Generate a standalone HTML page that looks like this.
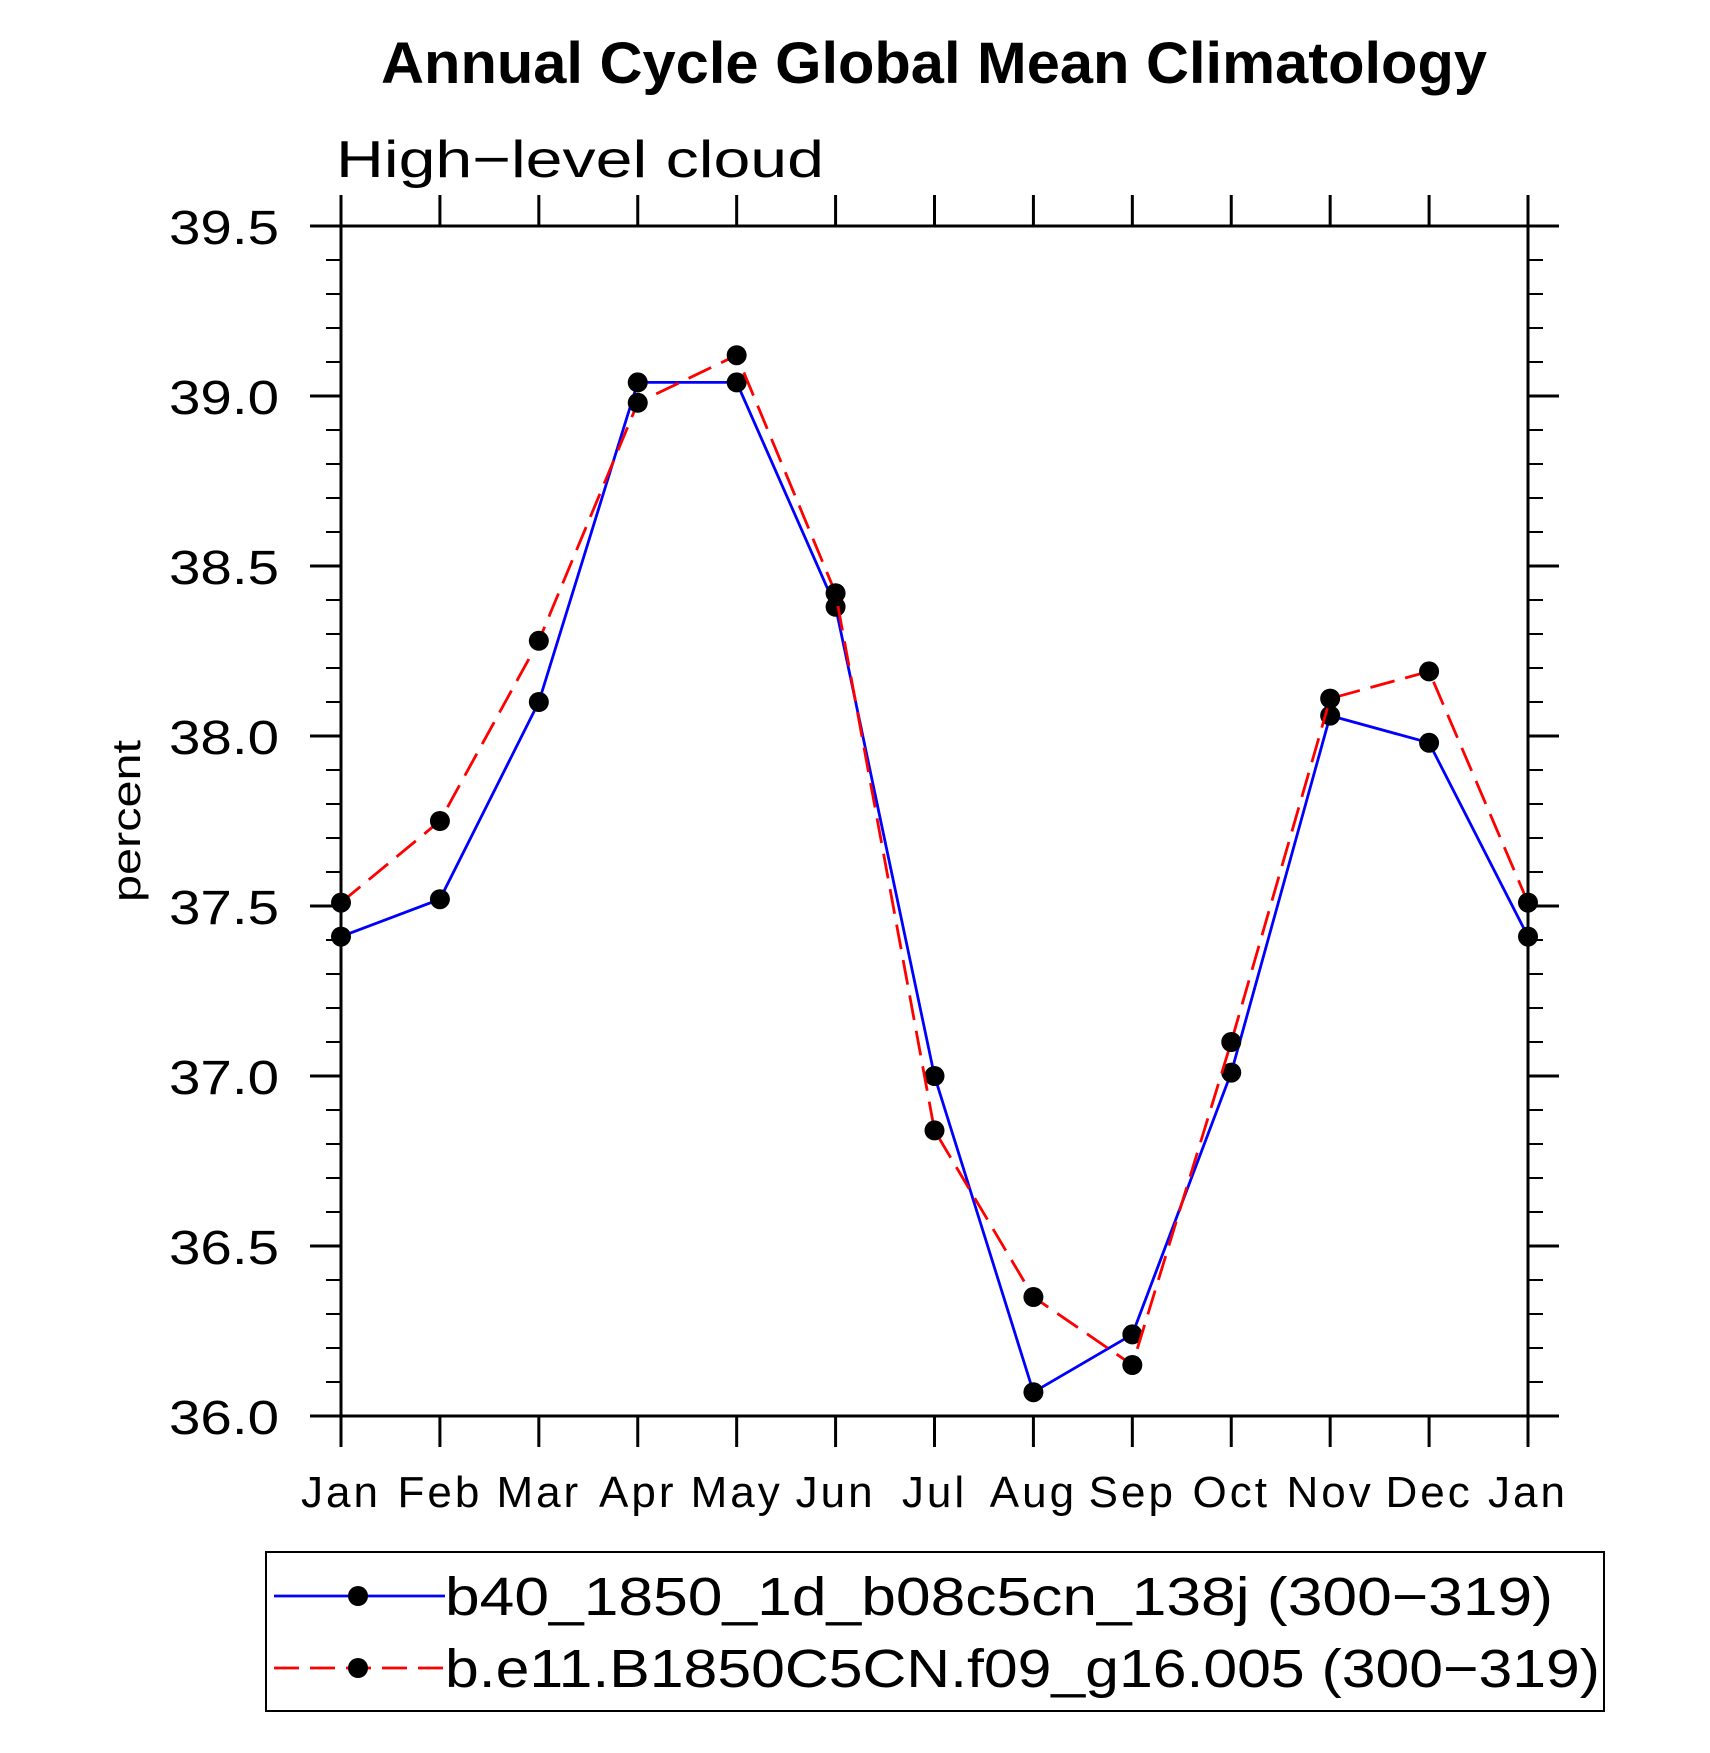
<!DOCTYPE html>
<html><head><meta charset="utf-8"><style>
html,body{margin:0;padding:0;background:#fff;}
svg{display:block;font-family:"Liberation Sans",sans-serif;}
</style></head><body>
<svg id="chart" width="1710" height="1753" viewBox="0 0 1710 1753" xmlns="http://www.w3.org/2000/svg">
<text x="934" y="83" text-anchor="middle" font-size="58" font-weight="bold" textLength="1106" lengthAdjust="spacingAndGlyphs">Annual Cycle Global Mean Climatology</text>
<text x="336" y="177" font-size="52" textLength="488" lengthAdjust="spacingAndGlyphs">High−level cloud</text>
<text transform="translate(140,821) rotate(-90)" text-anchor="middle" font-size="40" textLength="162" lengthAdjust="spacingAndGlyphs">percent</text>
<g id="axes"></g>
<g id="series"></g>
<rect x="266" y="1552" width="1338" height="159" fill="none" stroke="#000" stroke-width="2"/>
<g>
<line x1="274" y1="1596" x2="445" y2="1596" stroke="#0000ff" stroke-width="2.8"/>
<circle cx="358" cy="1596" r="10" fill="#000"/>
<text x="445" y="1615" font-size="54" textLength="1108" lengthAdjust="spacingAndGlyphs">b40_1850_1d_b08c5cn_138j (300−319)</text>
</g>
<g>
<line x1="274" y1="1668" x2="445" y2="1668" stroke="#ff0000" stroke-width="2.8" stroke-dasharray="25,11"/>
<circle cx="358" cy="1668" r="10" fill="#000"/>
<text x="445" y="1687" font-size="54" textLength="1155" lengthAdjust="spacingAndGlyphs">b.e11.B1850C5CN.f09_g16.005 (300−319)</text>
</g>
</svg>
<script>
const months = ["Jan","Feb","Mar","Apr","May","Jun","Jul","Aug","Sep","Oct","Nov","Dec","Jan"];
const blueValues = [37.41,37.52,38.10,39.04,39.04,38.38,37.00,36.07,36.24,37.01,38.06,37.98,37.41];
const redValues = [37.51,37.75,38.28,38.98,39.12,38.42,36.84,36.35,36.15,37.10,38.11,38.19,37.51];
const yTicks = ["36.0","36.5","37.0","37.5","38.0","38.5","39.0","39.5"];
const yMin = 36.0, yMax = 39.5;

const NS = "http://www.w3.org/2000/svg";
const L = 341, R = 1528, T = 226, B = 1416;
function xs(i){ return L + (R - L) * i / (months.length - 1); }
function ys(v){ return B - (B - T) * (v - yMin) / (yMax - yMin); }
function mk(tag, attrs, parent){ const e = document.createElementNS(NS, tag); for (const k in attrs) e.setAttribute(k, attrs[k]); parent.appendChild(e); return e; }

const axes = document.getElementById('axes');
const frame = mk('rect', {x:L, y:T, width:R-L, height:B-T, fill:'none', stroke:'#000', 'stroke-width':3}, axes);



for (let k = 0; k <= Math.round((yMax - yMin) * 10); k++) {
  const y = ys(yMin + k / 10);
  mk('line', {x1:L-15, y1:y, x2:L, y2:y, stroke:'#000', 'stroke-width':2}, axes);
  mk('line', {x1:R, y1:y, x2:R+15, y2:y, stroke:'#000', 'stroke-width':2}, axes);
}
yTicks.forEach(t => {
  const y = ys(parseFloat(t));
  mk('line', {x1:L-31, y1:y, x2:L, y2:y, stroke:'#000', 'stroke-width':3}, axes);
  mk('line', {x1:R, y1:y, x2:R+31, y2:y, stroke:'#000', 'stroke-width':3}, axes);
  const tx = mk('text', {x:279, y:y+18, 'text-anchor':'end', 'font-size':48, textLength:110, lengthAdjust:'spacingAndGlyphs'}, axes);
  tx.textContent = t;
  
  
});
months.forEach((m, i) => {
  const x = xs(i);
  mk('line', {x1:x, y1:B, x2:x, y2:B+31, stroke:'#000', 'stroke-width':3}, axes);
  mk('line', {x1:x, y1:T-31, x2:x, y2:T, stroke:'#000', 'stroke-width':3}, axes);
  const tx = mk('text', {x:x, y:1507, 'text-anchor':'middle', 'font-size':44, 'letter-spacing':3}, axes);
  tx.textContent = m;
  
  
});

const series = document.getElementById('series');
function drawSeries(vals, color, dash, name){
  const g = mk('g', {}, series);
  
  
  const pts = vals.map((v, i) => xs(i) + ',' + ys(v)).join(' ');
  const pl = mk('polyline', {points:pts, fill:'none', stroke:color, 'stroke-width':2.8}, g);
  if (dash) pl.setAttribute('stroke-dasharray', dash);
  
  
  vals.forEach((v, i) => {
    const c = mk('circle', {cx:xs(i), cy:ys(v), r:10, fill:'#000'}, g);
    
    
  });
}
drawSeries(blueValues, '#0000ff', null, 'series-b40');
drawSeries(redValues, '#ff0000', '25,11', 'series-be11');
</script>
</body></html>
